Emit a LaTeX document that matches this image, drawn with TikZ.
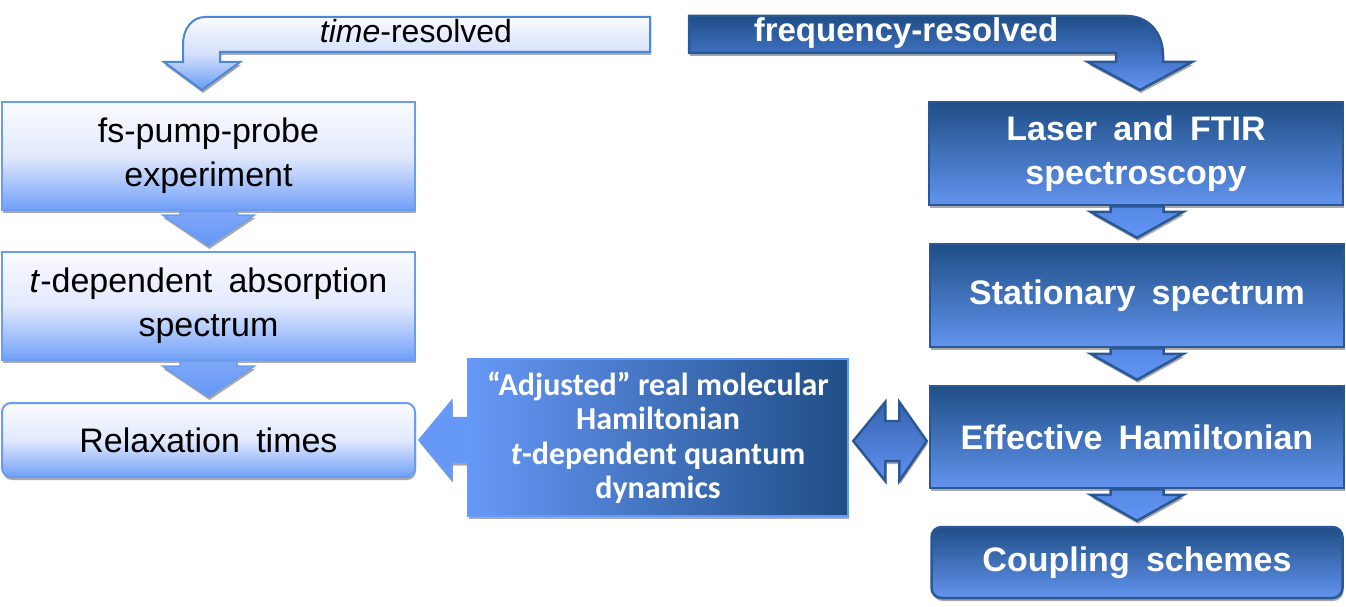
\documentclass[tikz,border=0pt]{standalone}
\usepackage{fontspec}
\setmainfont{Liberation Sans}
\newfontfamily\carlito{Carlito}
\usetikzlibrary{calc,shadows,backgrounds}
\definecolor{lbord}{RGB}{108,156,240}
\definecolor{ltop}{RGB}{250,251,255}
\definecolor{lmid}{RGB}{226,233,253}
\definecolor{lbot}{RGB}{112,160,248}
\definecolor{larrtop}{RGB}{128,168,248}
\definecolor{larrbot}{RGB}{100,150,245}
\definecolor{dtop}{RGB}{31,78,134}
\definecolor{dbot}{RGB}{98,148,238}
\definecolor{dbord}{RGB}{42,88,150}
\definecolor{darrtop}{RGB}{86,136,228}
\definecolor{darrbot}{RGB}{98,150,245}
\definecolor{mleft}{RGB}{102,152,247}
\definecolor{mright}{RGB}{31,78,134}
\definecolor{mbord}{RGB}{100,155,250}
\definecolor{tlbord}{RGB}{75,135,215}
\newcommand\xsp{\hspace{0.2em}}
\newcommand\blockdn[6]{%
  \path[#1] let \p1=(#2.south), \p2=(#3.north) in
    (\x2-#4,\y1) -- (\x2-#4,\y2+5pt+#6) -- (\x2-#5,\y2+5pt+#6) -- (\x2,\y2+5pt)
    -- (\x2+#5,\y2+5pt+#6) -- (\x2+#4,\y2+5pt+#6) -- (\x2+#4,\y1) -- cycle;}
\begin{document}
\begin{tikzpicture}[x=1pt,y=-1pt,
  shd/.style={drop shadow={shadow xshift=1pt,shadow yshift=-3pt,fill=black!45,opacity=.75}},
  lightbox/.style={draw=lbord, line width=2pt, top color=ltop, bottom color=lbot, middle color=lmid,
    shd, minimum width=413pt, text=black, font=\fontsize{34}{44}\selectfont, align=center, inner sep=0pt},
  darkbox/.style={draw=dbord, line width=2.5pt, top color=dtop, bottom color=dbot,
    shd, minimum width=414pt, text=white, font=\bfseries\fontsize{34}{44}\selectfont, align=center, inner sep=0pt},
  midbox/.style={draw=mbord, line width=2.5pt, left color=mleft, right color=mright,
    shd, minimum width=380pt, minimum height=157pt, text=white,
    font=\carlito\bfseries\fontsize{32}{34.5}\selectfont, align=center, inner sep=0pt},
  larrow/.style={draw=lbord, line width=1.5pt, top color=larrtop, bottom color=larrbot, shd, line join=miter},
  darrow/.style={draw=dbord, line width=2.5pt, top color=darrtop, bottom color=darrbot, shd, line join=miter},
  marrow/.style={draw=mbord, line width=1.5pt, fill=mleft, shd, line join=miter},
  dblarrow/.style={draw=dbord, line width=2.5pt, top color={rgb,255:red,55;green,100;blue,178}, bottom color={rgb,255:red,95;green,145;blue,240}, shd, line join=miter},
  tlarrow/.style={draw=tlbord, line width=2pt, top color=ltop, bottom color={rgb,255:red,105;green,155;blue,245}, middle color={rgb,255:red,212;green,224;blue,252}, shd, line join=miter},
  trarrow/.style={draw=dbord, line width=2.5pt, top color=dtop, bottom color={rgb,255:red,100;green,150;blue,245}, middle color={rgb,255:red,62;green,112;blue,192}, shd, line join=miter}
]
\useasboundingbox (0,0) rectangle (1346,607);

% top bent arrows
\path[tlarrow] (650,17) -- (205,17) .. controls (192,17) and (183,29) .. (183,44) -- (183,62) -- (164,62)
  -- (202,90) -- (240,62) -- (220,62) -- (220,52) -- (650,52) -- cycle;
\path[trarrow] (689,16) -- (1126,16) .. controls (1148,16) and (1163,32) .. (1163,56) -- (1163,62) -- (1192,62)
  -- (1140,90) -- (1088,62) -- (1116,62) -- (1116,53) -- (689,53) -- cycle;
\node[anchor=base, font=\fontsize{32}{36}\selectfont, text=black] (TL) at (416,43) {\textit{time}-resolved};
\node[anchor=base, font=\bfseries\fontsize{33}{36}\selectfont, text=white] (TR) at (906,42) {frequency-resolved};

% left column
\node[lightbox, minimum height=108pt] (L1) at (208.5,156) {fs-pump-probe\\experiment};
\node[lightbox, minimum height=108pt] (L2) at (208.5,306) {\textit{t}-dependent\xsp{} absorption\\spectrum};
\node[lightbox, minimum height=74pt, rounded corners=9pt] (L3) at (208.5,440) {Relaxation\xsp{} times};
\blockdn{larrow}{L1}{L2}{28.5pt}{46pt}{31pt}
\blockdn{larrow}{L2}{L3}{28.5pt}{46pt}{31pt}

% right column
\node[darkbox, minimum height=103pt] (R1) at (1136,153.5) {Laser\xsp{} and\xsp{} FTIR\\spectroscopy};
\node[darkbox, minimum height=103pt] (R2) at (1137,295.5) {Stationary\xsp{} spectrum};
\node[darkbox, minimum height=102pt] (R3) at (1137,437) {Effective\xsp{} Hamiltonian};
\node[darkbox, minimum height=71pt, minimum width=411pt, rounded corners=10pt] (R4) at (1137,562.5) {Coupling\xsp{} schemes};
\blockdn{darrow}{R1}{R2}{26.5pt}{46.5pt}{26pt}
\blockdn{darrow}{R2}{R3}{26.5pt}{46.5pt}{26pt}
\blockdn{darrow}{R3}{R4}{26.5pt}{46.5pt}{26pt}

% middle
\node[midbox] (M) at (658,437.5) {“Adjusted” real molecular\\Hamiltonian\\\textit{t}-dependent quantum\\dynamics};
\begin{scope}[on background layer]
\path[marrow] let \p1=(M.west), \p2=(L3.east) in
  (\x1+1pt,\y2+22.5pt) -- (\x1-15pt,\y2+22.5pt) -- (\x1-15pt,\y2+39.5pt) -- (\x2+3pt,\y2)
  -- (\x1-15pt,\y2-39.5pt) -- (\x1-15pt,\y2-22.5pt) -- (\x1+1pt,\y2-22.5pt) -- cycle;
\end{scope}
\path[dblarrow] let \p1=(M.east), \p2=(R3.west) in
  (\x1+4pt,\y1-3.5pt) -- (\x1+36pt,\y1+35.5pt) -- (\x1+36pt,\y1+16.5pt) -- (\x1+50pt,\y1+16.5pt)
  -- (\x1+50pt,\y1+35.5pt) -- (\x2-2pt,\y1-3.5pt) -- (\x1+50pt,\y1-43.5pt) -- (\x1+50pt,\y1-23.5pt)
  -- (\x1+36pt,\y1-23.5pt) -- (\x1+36pt,\y1-43.5pt) -- cycle;
\end{tikzpicture}
\end{document}
